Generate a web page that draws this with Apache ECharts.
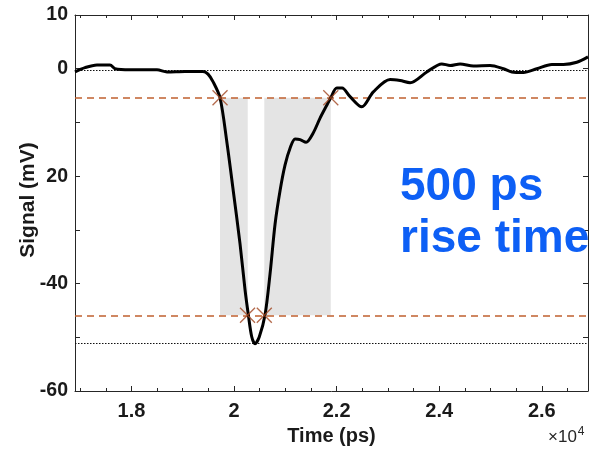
<!DOCTYPE html>
<html>
<head>
<meta charset="utf-8">
<script src="https://cdn.jsdelivr.net/npm/echarts@6/dist/echarts.min.js"></script>
<style>
  html, body { margin: 0; padding: 0; background: #fff; }
  #myChart { width: 598px; height: 451px; }
</style>
</head>
<body>
<div id="myChart"></div>
<script>
// signal trace (time in ps, signal in mV)
var timePs = [16900, 17095, 17328, 17582, 17680, 17972, 18498, 18693, 19045, 19395,
  19493, 19590, 19727, 19858, 19986, 20117, 20215, 20279, 20345, 20410,
  20493, 20605, 20702, 20800, 20897, 20995, 21092, 21190, 21287, 21404,
  21541, 21677, 21808, 21886, 22003, 22106, 22262, 22490, 22716, 23042,
  23237, 23432, 23758, 24050, 24212, 24407, 24666, 24992, 25251, 25415,
  25641, 25903, 26195, 26421, 26682, 26900]
var signalMv = [-0.6, 0.2, 0.7, 0.7, 0.0, -0.2, -0.2, -0.6, -0.5, -0.5,
  -1.0, -2.4, -5.4, -13.5, -22.8, -32.6, -41.2, -45.8, -49.9, -51.2,
  -49.9, -45.8, -38.2, -28.9, -22.7, -17.9, -14.8, -13.1, -13.2, -13.7,
  -12.0, -9.2, -6.8, -5.4, -3.6, -3.6, -5.2, -7.1, -4.3, -2.0,
  -2.2, -2.6, -0.6, 0.9, 0.6, 0.9, 0.5, 0.6, 0.0, -0.6,
  -0.7, 0.0, 0.8, 0.8, 1.2, 2.2]

// levels
var baseLevel = -0.2
var minLevel = -51.1
var lowThreshold = -5.4
var highThreshold = -45.9

// crossing markers
var crossTime = [19727, 20263, 20590, 21886]
var crossValue = [-5.4, -45.9, -45.9, -5.4]

// shaded rise / fall windows
var windowStart = [19727, 20590]
var windowEnd = [20267, 21886]

// axes
var xMin = 16900
var xMax = 26900
var xMajor = [18000, 20000, 22000, 24000, 26000]
var xMinor = [17000, 17500, 18500, 19000, 19500, 20500, 21000, 21500, 22000, 22500,
  23000, 23500, 24500, 25000, 25500, 26500]
var yLabels = { '10': '10', '0': '0', '-20': '20', '-40': '-40', '-60': '-60' }

var font = 'Liberation Sans, Arial, sans-serif'
var axisColor = '#262626'

function xAxisDef (pos, ticks, len, withLabels) {
  return {
    type: 'value',
    position: pos,
    min: xMin,
    max: xMax,
    axisLine: { show: withLabels !== null, onZero: false, lineStyle: { color: axisColor, width: 1 } },
    axisTick: { show: true, inside: true, length: len, customValues: ticks, lineStyle: { color: axisColor } },
    axisLabel: {
      show: !!withLabels,
      customValues: xMajor,
      color: '#1a1a1a',
      fontSize: 20,
      fontWeight: 'bold',
      fontFamily: font,
      margin: 10,
      formatter: function (v) { return String(v / 10000) }
    },
    splitLine: { show: false }
  }
}

function yAxisDef (pos, withLabels) {
  return {
    type: 'value',
    position: pos,
    min: -60,
    max: 10,
    interval: 10,
    axisLine: { show: true, onZero: false, lineStyle: { color: axisColor, width: 1 } },
    axisTick: { show: true, inside: true, length: 5, lineStyle: { color: axisColor } },
    axisLabel: {
      show: withLabels,
      color: '#1a1a1a',
      fontSize: 19.5,
      fontWeight: 'bold',
      fontFamily: font,
      margin: 7,
      formatter: function (v) { return yLabels[String(v)] || '' }
    },
    splitLine: { show: false }
  }
}

var myChart = echarts.init(document.getElementById('myChart'), null, { renderer: 'canvas' })

var areas = []
for (var i = 0; i < windowStart.length; i++) {
  areas.push([{ coord: [windowStart[i], lowThreshold] }, { coord: [windowEnd[i], highThreshold] }])
}

var option = {
  animation: false,
  backgroundColor: '#fff',
  grid: { left: 75, right: 10, top: 15, bottom: 55 },
  xAxis: [
    Object.assign(xAxisDef('bottom', xMajor, 5, true), {
      name: 'Time (ps)',
      nameLocation: 'middle',
      nameGap: 35,
      nameTextStyle: { fontSize: 20, fontWeight: 'bold', fontFamily: font, color: '#1a1a1a' }
    }),
    xAxisDef('bottom', xMinor, 3, null),
    xAxisDef('top', xMajor, 5, false),
    xAxisDef('top', xMinor, 3, null)
  ],
  yAxis: [yAxisDef('left', true), yAxisDef('right', false)],
  graphic: [
    {
      type: 'text', x: 28, y: 200, rotation: Math.PI / 2,
      style: { text: 'Signal (mV)', fill: '#1a1a1a', fontSize: 21, fontWeight: 'bold', fontFamily: font, align: 'center', verticalAlign: 'middle' }
    },
    {
      type: 'text', left: 548, top: 426,
      style: {
        text: '×10{s|4}', fill: '#262626', fontSize: 17, fontFamily: font,
        rich: { s: { fontSize: 12, verticalAlign: 'top', padding: [0, 0, 10, 1], fontFamily: font } }
      }
    },
    {
      type: 'text', left: 400, top: 161, z: 100,
      style: { text: '500 ps\nrise time', fill: '#0d5ff5', fontSize: 46, fontWeight: 'bold', fontFamily: font, lineHeight: 52 }
    }
  ],
  series: [
    {
      type: 'line',
      xAxisIndex: 0,
      yAxisIndex: 0,
      data: [],
      silent: true,
      markArea: {
        silent: true,
        itemStyle: { color: '#e4e4e4' },
        data: areas
      },
      markLine: {
        silent: true,
        symbol: 'none',
        label: { show: false },
        data: [
          { yAxis: baseLevel, lineStyle: { type: [1.5, 1.5], color: '#111', width: 1.2 } },
          { yAxis: minLevel, lineStyle: { type: [1.5, 1.5], color: '#111', width: 1.2 } },
          { yAxis: lowThreshold, lineStyle: { type: [7, 5], color: '#c0602f', width: 1.5 } },
          { yAxis: highThreshold, lineStyle: { type: [7, 5], color: '#c0602f', width: 1.5 } }
        ]
      }
    },
    {
      type: 'line',
      xAxisIndex: 0,
      yAxisIndex: 0,
      data: timePs.map(function (t, k) { return [t, signalMv[k]] }),
      showSymbol: false,
      smooth: 0.3,
      lineStyle: { color: '#000', width: 3 },
      z: 5
    },
    {
      type: 'scatter',
      xAxisIndex: 0,
      yAxisIndex: 0,
      data: crossTime.map(function (t, k) { return [t, crossValue[k]] }),
      symbol: 'path://M0,0L10,10M10,0L0,10',
      symbolSize: 15,
      itemStyle: { color: 'transparent', borderColor: '#a0451f', borderWidth: 1.3 },
      z: 6
    }
  ]
}

myChart.setOption(option)
</script>
</body>
</html>
